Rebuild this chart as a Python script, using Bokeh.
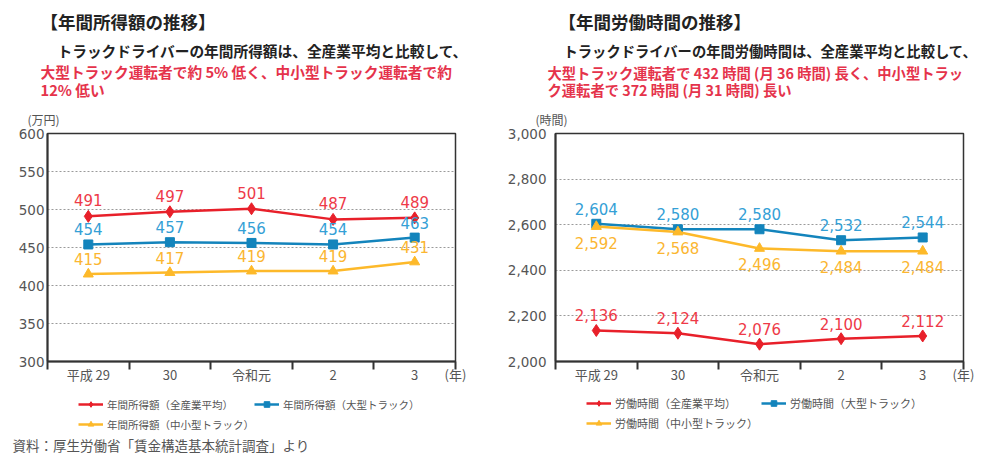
from bokeh.plotting import figure
from bokeh.models import (Range1d, FixedTicker, Label, Title,
                          ColumnDataSource, NumeralTickFormatter)
from bokeh.layouts import row, column
from bokeh.core.properties import value
from bokeh.embed import file_html
from bokeh.resources import INLINE

FONT = "Noto Sans CJK JP"
NUM_FONT = "DejaVu Sans"
NAN = float("nan")

# ---------------- data ----------------
categories = ["平成 29", "30", "令和元", "2", "3"]
year_unit = "(年)"

income_all = [491, 497, 501, 487, 489]
income_large = [454, 457, 456, 454, 463]
income_small = [415, 417, 419, 419, 431]
income_ticks = [300, 350, 400, 450, 500, 550, 600]

hours_all = [2136, 2124, 2076, 2100, 2112]
hours_large = [2604, 2580, 2580, 2532, 2544]
hours_small = [2592, 2568, 2496, 2484, 2484]
hours_ticks = [2000, 2200, 2400, 2600, 2800, 3000]

income_names = ["年間所得額（全産業平均）", "年間所得額（大型トラック）", "年間所得額（中小型トラック）"]
hours_names = ["労働時間（全産業平均）", "労働時間（大型トラック）", "労働時間（中小型トラック）"]

# ---------------- style ----------------
RED_LINE, RED_TXT = "#E8202A", "#EE3A48"
BLUE_LINE, BLUE_TXT = "#1384BC", "#34A0D6"
YEL_LINE, YEL_TXT = "#FDB92A", "#FBB631"
AX = "#555555"
DARK = "#222222"
SUB_RED = "#E5334B"
STYLES = [
    (RED_LINE, RED_TXT, "diamond", 12),
    (BLUE_LINE, BLUE_TXT, "square", 9),
    (YEL_LINE, YEL_TXT, "triangle", 10),
]

HEADER_H = 101
FRAME_W, FRAME_H = 408, 228
CH_TOP, CH_BOTTOM = 32, 33
LEG_H = 42
FOOT_H = 26
TOTAL_W = 999


def blank_fig(width, height, **kw):
    p = figure(width=width, height=height, x_range=Range1d(0, width),
               y_range=Range1d(height, 0), min_border=0,
               x_axis_location=None, y_axis_location=None,
               output_backend="svg", toolbar_location=None,
               outline_line_color=None, background_fill_color="white",
               border_fill_color="white", **kw)
    p.xgrid.visible = False
    p.ygrid.visible = False
    return p


def text_label(p, x, y, text, size, color, bold=False):
    p.add_layout(Label(x=x, y=y, text=text, text_font=FONT,
                       text_font_size=size,
                       text_font_style="bold" if bold else "normal",
                       text_color=color, text_align="left",
                       text_baseline="middle"))


# ---------------- header (titles) ----------------
header = blank_fig(TOTAL_W, HEADER_H)
text_label(header, 40, 21, "【年間所得額の推移】", "17.5px", DARK, True)
text_label(header, 57, 50, "トラックドライバーの年間所得額は、全産業平均と比較して、", "14.7px", DARK, True)
text_label(header, 40, 71, "大型トラック運転者で約 5% 低く、中小型トラック運転者で約", "14.7px", SUB_RED, True)
text_label(header, 40, 89, "12% 低い", "14.7px", SUB_RED, True)
text_label(header, 558, 21, "【年間労働時間の推移】", "17.5px", DARK, True)
text_label(header, 563, 50, "トラックドライバーの年間労働時間は、全産業平均と比較して、", "14.3px", DARK, True)
text_label(header, 547, 72, "大型トラック運転者で 432 時間 (月 36 時間) 長く、中小型トラッ", "14.3px", SUB_RED, True)
text_label(header, 547, 89, "ク運転者で 372 時間 (月 31 時間) 長い", "14.3px", SUB_RED, True)


def make_chart(border_left, border_right, yticks, fmt, series, unit_text,
               offsets, ystandoff):
    ymin, ymax = yticks[0], yticks[-1]
    ncat = len(categories)
    p = figure(frame_width=FRAME_W, frame_height=FRAME_H,
               x_range=Range1d(0, ncat), y_range=Range1d(ymin, ymax),
               min_border_left=border_left, min_border_right=border_right,
               min_border_top=CH_TOP, min_border_bottom=CH_BOTTOM,
               output_backend="svg", toolbar_location=None,
               background_fill_color="white", border_fill_color="white")
    p.outline_line_color = "#333333"
    p.outline_line_width = 1.5
    p.xgrid.visible = False
    p.ygrid.ticker = FixedTicker(ticks=yticks)
    p.ygrid.grid_line_color = "#9a9a9a"
    p.ygrid.grid_line_dash = "2 2"
    p.ygrid.grid_line_width = 1

    xs = [i + 0.5 for i in range(ncat)]
    xa = p.xaxis[0]
    xa.ticker = FixedTicker(ticks=xs + [ncat], minor_ticks=list(range(ncat + 1)))
    overrides = {x: c for x, c in zip(xs, categories)}
    overrides[ncat] = year_unit
    xa.major_label_overrides = overrides
    xa.major_tick_out = 0
    xa.major_tick_in = 0
    xa.minor_tick_out = 8
    xa.minor_tick_in = 0
    xa.minor_tick_line_color = "#333333"
    xa.minor_tick_line_width = 2
    xa.axis_line_color = "#333333"
    xa.axis_line_width = 2
    xa.major_label_text_font = FONT
    xa.major_label_text_font_size = "13px"
    xa.major_label_text_color = AX
    xa.major_label_standoff = -5

    ya = p.yaxis[0]
    ya.ticker = FixedTicker(ticks=yticks)
    ya.formatter = NumeralTickFormatter(format=fmt)
    ya.major_tick_out = 0
    ya.major_tick_in = 0
    ya.minor_tick_out = 0
    ya.minor_tick_in = 0
    ya.axis_line_color = "#333333"
    ya.axis_line_width = 2
    ya.major_label_text_font = NUM_FONT
    ya.major_label_text_font_size = "13.5px"
    ya.major_label_text_color = AX
    ya.major_label_standoff = ystandoff

    for vals, (lc, tc, mk, ms), off in zip(series, STYLES, offsets):
        src = ColumnDataSource(dict(x=xs, y=vals,
                                    t=[format(v, ",") for v in vals]))
        p.line("x", "y", source=src, line_color=lc, line_width=2.5)
        p.scatter("x", "y", source=src, marker=mk, size=ms,
                  fill_color=lc, line_color=lc)
        p.text("x", "y", text="t", source=src, text_font=value(NUM_FONT),
               text_font_size="15px", text_color=tc, text_align="center",
               text_baseline="middle", y_offset=off)

    p.add_layout(Title(text=unit_text, align="left", offset=-20, standoff=11,
                       text_font=FONT, text_font_size="12px",
                       text_font_style="normal", text_color=AX), "above")
    return p


def make_legend_fig(width, left_pad, names, font_size, spacing, label_h):
    p = figure(frame_width=width - left_pad, frame_height=LEG_H,
               x_range=Range1d(0, 1), y_range=Range1d(0, 1),
               min_border_left=left_pad, min_border_right=0,
               min_border_top=0, min_border_bottom=0,
               x_axis_location=None, y_axis_location=None,
               output_backend="svg", toolbar_location=None,
               outline_line_color=None, background_fill_color="white",
               border_fill_color="white")
    p.xgrid.visible = False
    p.ygrid.visible = False
    for name, (lc, tc, mk, ms) in zip(names, STYLES):
        # legend-only renderers (a single NaN point: nothing is drawn)
        src = ColumnDataSource(dict(x=[NAN], y=[NAN]))
        p.line("x", "y", source=src, line_color=lc, line_width=2.5,
               legend_label=name)
        p.scatter("x", "y", source=src, marker=mk, size=ms - 2,
                  fill_color=lc, line_color=lc, legend_label=name)
    lg = p.legend[0]
    lg.location = "top_left"
    lg.orientation = "horizontal"
    lg.ncols = 2
    lg.margin = 0
    lg.padding = 0
    lg.spacing = spacing
    lg.glyph_width = 25
    lg.glyph_height = 14
    lg.label_height = label_h
    lg.label_standoff = 4
    lg.label_text_font = FONT
    lg.label_text_font_size = font_size
    lg.label_text_color = AX
    lg.border_line_color = None
    lg.background_fill_alpha = 0
    return p


left = make_chart(47, 45, income_ticks, "0",
                  [income_all, income_large, income_small], "(万円)",
                  [-16, -15, -15], 3)
right = make_chart(55, 36, hours_ticks, "0,0",
                   [hours_all, hours_large, hours_small], "(時間)",
                   [-15, -15, 16], 9)

left_leg = make_legend_fig(500, 78, income_names, "10.5px", 0, 20)
right_leg = make_legend_fig(499, 86, hours_names, "11px", 3, 17)

footer = blank_fig(TOTAL_W, FOOT_H)
text_label(footer, 12, 8, "資料：厚生労働省「賃金構造基本統計調査」より", "13.5px", AX)

layout = column(header, row(left, right), row(left_leg, right_leg), footer)
open("out.html", "w").write(file_html(layout, INLINE))
